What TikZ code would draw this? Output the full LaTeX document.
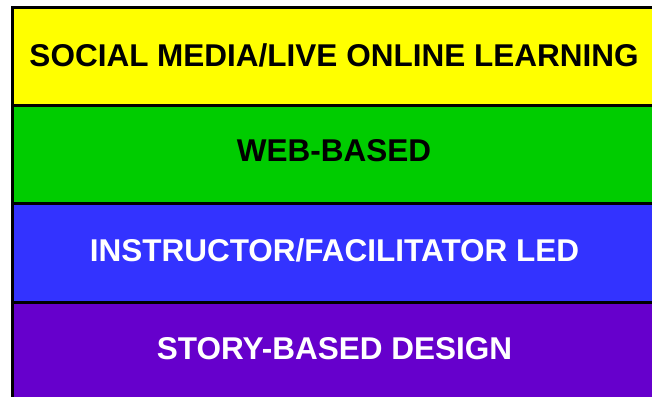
\documentclass[tikz,border=0pt]{standalone}
\usepackage{fontspec}
\setmainfont{Liberation Sans}
\definecolor{cyellow}{HTML}{FFFF00}
\definecolor{cgreen}{HTML}{00CC00}
\definecolor{cblue}{HTML}{3333FF}
\definecolor{cpurple}{HTML}{6600CC}
\begin{document}
\begin{tikzpicture}[x=1pt,y=-1pt,
  band/.style={draw=black,line width=3pt},
  lbl/.style={font=\fontsize{31.5}{33}\selectfont\bfseries,inner sep=0pt,anchor=center}]
\useasboundingbox (0,0) rectangle (652,396);
\clip (0,0) rectangle (652,396);
\fill[white] (0,0) rectangle (652,396);
\filldraw[band,fill=cyellow] (12,8) rectangle (670,105);
\filldraw[band,fill=cgreen] (12,105) rectangle (670,203);
\filldraw[band,fill=cblue] (12,203) rectangle (670,302);
\filldraw[band,fill=cpurple] (12,302) rectangle (670,410);
\node[lbl,text=black] (t1) at (334,55) {SOCIAL MEDIA/LIVE ONLINE LEARNING};
\node[lbl,text=black] (t2) at (334,151) {WEB-BASED};
\node[lbl,text=white] (t3) at (334.5,250) {INSTRUCTOR/FACILITATOR LED};
\node[lbl,text=white] (t4) at (334.5,349) {STORY-BASED DESIGN};
\end{tikzpicture}
\end{document}
